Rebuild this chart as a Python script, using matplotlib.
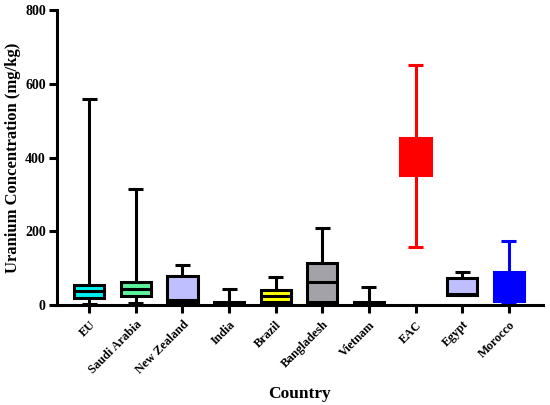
import matplotlib
matplotlib.use("Agg")
import matplotlib.pyplot as plt
from matplotlib.transforms import ScaledTranslation

countries = ["EU", "Saudi Arabia", "New Zealand", "India", "Brazil",
             "Bangladesh", "Vietnam", "EAC", "Egypt", "Morocco"]
mins = [3, 4, 3, 0.5, 2, 2, 0.5, 158, 28, 6]
q1 = [20, 25, 7, 1, 7, 7, 1, 352, 27, 11]
medians = [37, 44, 14, 4, 23, 63, 4, 400, 30, 40]
q3 = [54, 63, 79, 7, 41, 115, 9, 453, 73, 90]
maxs = [558, 315, 109, 43, 76, 209, 48, 652, 89, 174]
fills = ["#00F0F0", "#5CF29A", "#BFBFFF", "#000000", "#FFFF00",
         "#A2A2A8", "#000000", "#FF0000", "#BFBFFF", "#0000FF"]
edges = ["black", "black", "black", "black", "black",
         "black", "black", "#FF0000", "black", "#0000FF"]

plt.rcParams['font.family'] = ['Liberation Serif', 'DejaVu Serif']
plt.rcParams['font.weight'] = 'bold'

fig = plt.figure(figsize=(5.5, 4.05), dpi=100)
ax = fig.add_axes([0.1036, 0.247, 0.8834, 0.728])

stats = []
for i, c in enumerate(countries):
    stats.append(dict(label=c, med=medians[i], q1=q1[i], q3=q3[i],
                      whislo=mins[i], whishi=maxs[i], fliers=[]))

lw = 2.2
bp = ax.bxp(stats, positions=range(len(countries)), widths=0.65,
            patch_artist=True, showfliers=False, capwidths=0.32)
for i, box in enumerate(bp['boxes']):
    box.set_facecolor(fills[i])
    box.set_edgecolor(edges[i])
    box.set_linewidth(lw)
for i in range(len(countries)):
    for art in (bp['whiskers'][2 * i], bp['whiskers'][2 * i + 1],
                bp['caps'][2 * i], bp['caps'][2 * i + 1]):
        art.set_color(edges[i])
        art.set_linewidth(lw)
        art.set_solid_capstyle('butt')
    bp['medians'][i].set_color(edges[i])
    bp['medians'][i].set_linewidth(lw)

ax.set_xlim(-0.69, 9.73)
ax.set_ylim(0, 800)
ax.set_yticks([0, 200, 400, 600, 800])
ax.set_xticks(range(len(countries)))
ax.set_xticklabels(countries, rotation=45, ha='right',
                   rotation_mode='anchor', fontsize=8.8, fontweight='bold')
offset = ScaledTranslation(3 / 100, 0, fig.dpi_scale_trans)
for t in ax.get_xticklabels():
    t.set_transform(t.get_transform() + offset)
for t in ax.get_yticklabels():
    t.set_fontsize(10)
    t.set_fontweight('bold')

for s in ['top', 'right']:
    ax.spines[s].set_visible(False)
for s in ['left', 'bottom']:
    ax.spines[s].set_linewidth(2.2)
ax.tick_params(axis='both', width=2.2, length=6, pad=2)
ax.tick_params(axis='x', pad=4)

ax.set_ylabel("Uranium Concentration (mg/kg)", fontsize=12,
              fontweight='bold', labelpad=3)
ax.set_xlabel("Country", fontsize=12.5, fontweight='bold', labelpad=7)

fig.savefig("out.png", dpi=100)
